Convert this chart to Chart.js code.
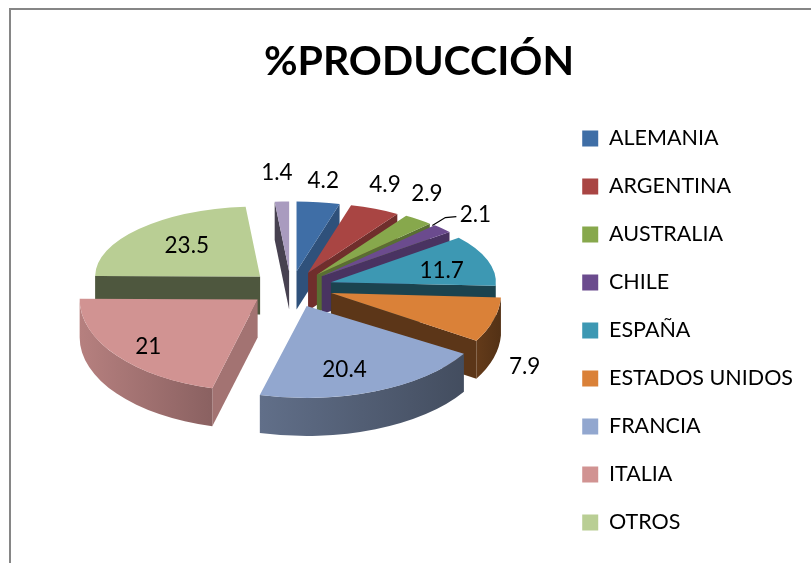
<!DOCTYPE html>
<html>
<head>
<meta charset="utf-8">
<style>html,body{margin:0;padding:0;background:#fff;overflow:hidden}canvas{display:block}</style>
<script src="https://cdn.jsdelivr.net/npm/chart.js@4"></script>
</head>
<body>
<canvas id="c" width="811" height="563"></canvas>
<script>
const countries = ["ALEMANIA","ARGENTINA","AUSTRALIA","CHILE","ESPAÑA","ESTADOS UNIDOS","FRANCIA","ITALIA","OTROS",""];
const production = [4.2,4.9,2.9,2.1,11.7,7.9,20.4,21,23.5,1.4];
const topColors = ["#3F6EA6","#A94543","#87A84C","#6B4B8E","#3D98B3","#DA8138","#92A7CF","#D19392","#B9CE94","#A99BBF"];
const radialShade = [0.74,0.66,0.66,0.68,0.44,0.42,0.6,0.78,0.42,0.42];
const labelNudge = [[5,-21],[10,-24],[8.5,-26],[33,-14],[-46,10],[31,47],[-31,-21],[32,-9],[48,17],[-5,-29]];
const sliceRx = {5: 170, 6: 184};
const leaderSlices = [3];

const view = {
  cx: 291, cy: 287, depth: 38, explodeX: 42,
  front: {rx: 178, ry: 92, ey: 20.4},
  back:  {rx: 165, ry: 70, ey: 15.6}
};

function shade(hex, f){
  const n = parseInt(hex.slice(1),16);
  const p = s => Math.round(((n>>s)&255)*f);
  return `rgb(${p(16)},${p(8)},${p(0)})`;
}
function wallFactor(t){
  const deg = (t*180/Math.PI)+90;
  return 0.38 + (deg-93)/177*0.49;
}
function sliceGeom(arc, i){
  const mid = (arc.startAngle+arc.endAngle)/2;
  const v = Math.sin(mid) > 0 ? view.front : view.back;
  return {
    mid,
    rx: sliceRx[i] || v.rx,
    ry: v.ry,
    ox: view.cx + Math.cos(mid)*view.explodeX,
    oy: view.cy + Math.sin(mid)*v.ey
  };
}

const pie3d = {
  id: 'pie3d',
  beforeDraw(chart){
    const ctx = chart.ctx;
    ctx.save();
    ctx.strokeStyle = '#868686';
    ctx.lineWidth = 2;
    ctx.beginPath();
    ctx.moveTo(10,563);
    ctx.lineTo(10,9);
    ctx.lineTo(811,9);
    ctx.stroke();
    ctx.restore();
  },
  beforeDatasetDraw(chart, args){
    const ctx = chart.ctx;
    const arcs = chart.getDatasetMeta(args.index).data;
    const order = arcs.map((a,i)=>i).sort((p,q)=>
      Math.sin(sliceGeom(arcs[p],p).mid) - Math.sin(sliceGeom(arcs[q],q).mid));
    // walls, back to front
    for (const i of order){
      const arc = arcs[i], g = sliceGeom(arc,i), {rx,ry} = g, d = view.depth;
      const col = topColors[i];
      const t0 = arc.startAngle, t1 = arc.endAngle;
      const rim = t => [g.ox+Math.cos(t)*rx, g.oy+Math.sin(t)*ry];
      const quad = t => {
        const [x,y] = rim(t);
        ctx.beginPath();
        ctx.moveTo(g.ox,g.oy); ctx.lineTo(x,y); ctx.lineTo(x,y+d); ctx.lineTo(g.ox,g.oy+d);
        ctx.closePath();
        ctx.fillStyle = shade(col, radialShade[i]);
        ctx.fill();
      };
      if (Math.cos(t0) < 0) quad(t0);
      if (Math.cos(t1) > 0) quad(t1);
      const lo = Math.max(t0,0), hi = Math.min(t1,Math.PI);
      if (hi > lo){
        const grad = ctx.createLinearGradient(rim(lo)[0],0,rim(hi)[0]-0.01,0);
        grad.addColorStop(0, shade(col, wallFactor(lo)));
        grad.addColorStop(1, shade(col, wallFactor(hi)));
        ctx.beginPath();
        ctx.ellipse(g.ox,g.oy,rx,ry,0,lo,hi);
        ctx.ellipse(g.ox,g.oy+d,rx,ry,0,hi,lo,true);
        ctx.closePath();
        ctx.fillStyle = grad;
        ctx.fill();
      }
    }
    // top faces: the library's own arcs, projected
    arcs.forEach((arc,i)=>{
      const g = sliceGeom(arc,i), R = arc.outerRadius;
      ctx.save();
      ctx.translate(g.ox,g.oy);
      ctx.scale(g.rx/R, g.ry/R);
      ctx.translate(-arc.x,-arc.y);
      arc.draw(ctx);
      ctx.restore();
    });
    return false;
  },
  afterDraw(chart){
    const ctx = chart.ctx;
    const arcs = chart.getDatasetMeta(0).data;
    ctx.save();
    ctx.font = '22.5px Lato';
    ctx.fillStyle = '#000';
    ctx.textAlign = 'center';
    ctx.textBaseline = 'middle';
    arcs.forEach((arc,i)=>{
      const g = sliceGeom(arc,i);
      const x0 = g.ox+Math.cos(g.mid)*g.rx, y0 = g.oy+Math.sin(g.mid)*g.ry;
      const x = x0+labelNudge[i][0], y = y0+labelNudge[i][1];
      ctx.fillText(String(production[i]), x, y);
      if (leaderSlices.includes(i)){
        ctx.strokeStyle = '#000';
        ctx.lineWidth = 1.2;
        ctx.beginPath();
        ctx.moveTo(x0-10,y0-3);
        ctx.lineTo(x-30,y+3);
        ctx.lineTo(x-19,y+2);
        ctx.stroke();
      }
    });
    ctx.restore();
  }
};

new Chart(document.getElementById('c'), {
  type: 'pie',
  plugins: [pie3d],
  data: {
    labels: countries,
    datasets: [{data: production, backgroundColor: topColors, borderWidth: 0, clip: false}]
  },
  options: {
    responsive: false,
    animation: false,
    layout: {padding: {left: 35, right: 8, top: 0, bottom: -98}},
    plugins: {
      title: {
        display: true,
        text: '%PRODUCCIÓN',
        color: '#000',
        font: {family: 'Lato', size: 41, weight: 'bold'},
        padding: {top: 37, bottom: 7}
      },
      legend: {
        position: 'right',
        labels: {
          font: {family: 'Lato', size: 21.5},
          color: '#000',
          boxWidth: 16,
          boxHeight: 16,
          padding: 26.5,
          filter: item => item.index < 9
        }
      },
      tooltip: {enabled: false}
    }
  }
});
</script>
</body>
</html>
